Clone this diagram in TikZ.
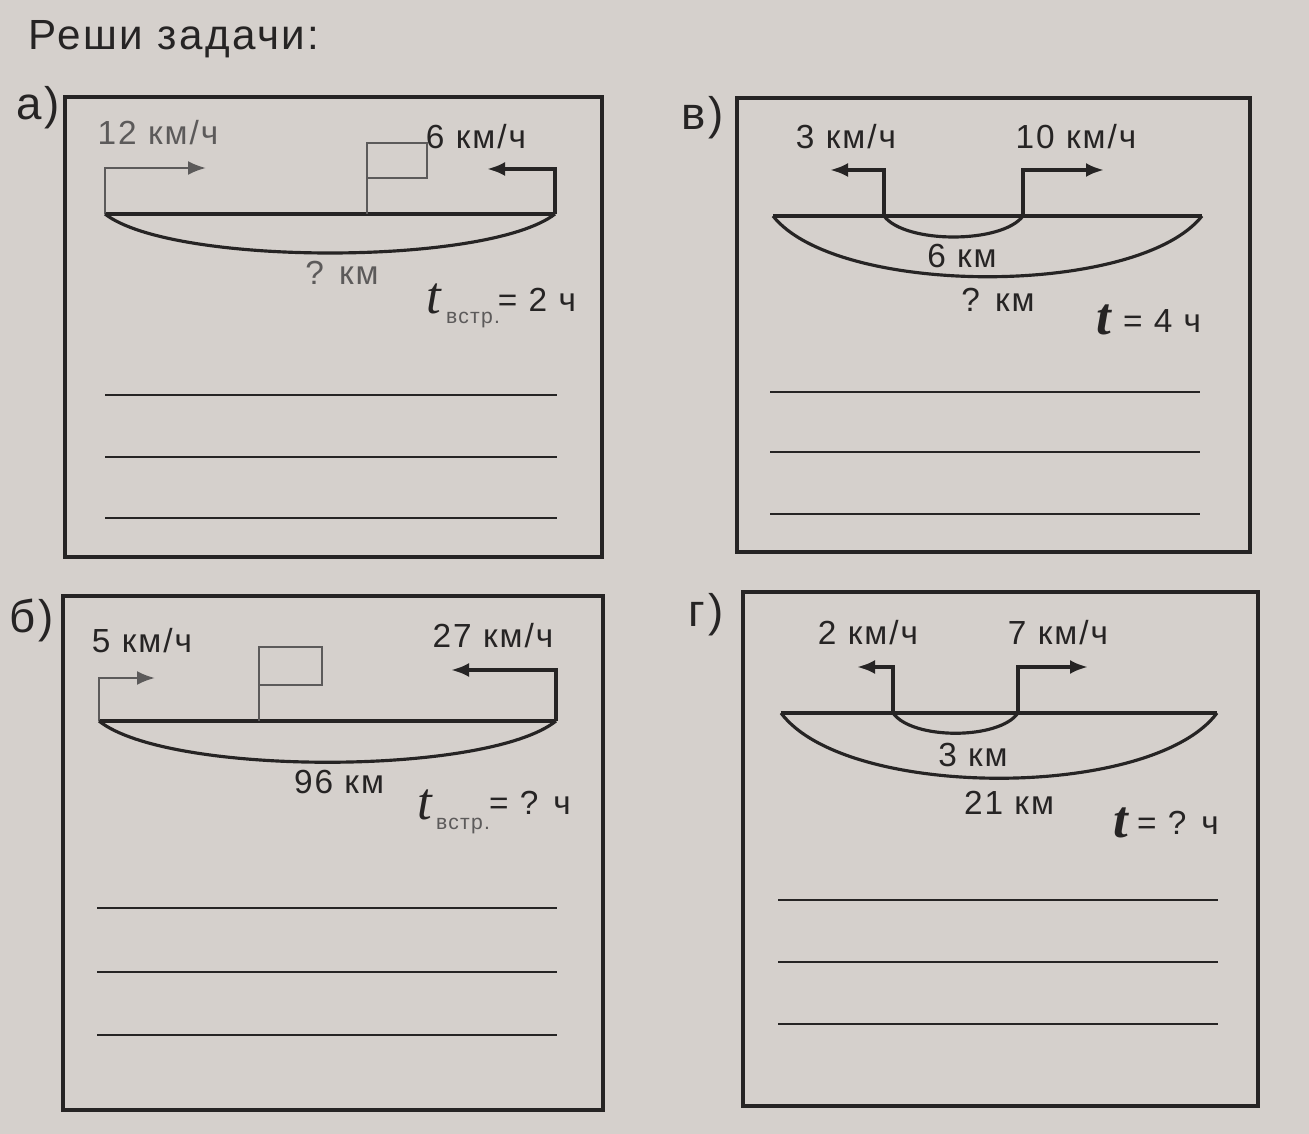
\documentclass[tikz,border=0pt]{standalone}
\usepackage{fontspec}
\setmainfont{Liberation Sans}[LetterSpace=6]
\newfontfamily\tfont{Liberation Serif}
\usetikzlibrary{arrows.meta}
\definecolor{paper}{RGB}{213,208,204}
\definecolor{ink}{RGB}{38,36,36}
\definecolor{pale}{RGB}{92,90,90}

\begin{document}
\begin{tikzpicture}[x=0.1mm,y=-0.1mm,
  lbl/.style={font=\fontsize{9.5}{11}\selectfont,text=ink,inner sep=1pt},
  tag/.style={font=\fontsize{13}{15}\selectfont,text=ink,inner sep=1pt},
  frame/.style={draw=ink,line width=1.1pt},
  road/.style={draw=ink,line width=1.3pt},
  bow/.style={draw=ink,line width=0.9pt},
  mv/.style={draw=ink,line width=1pt,-{Latex[length=1.8mm,width=1.4mm]}},
  flag/.style={draw=pale,line width=0.6pt},
  answ/.style={draw=ink,line width=0.6pt}]
\fill[paper] (0,0) rectangle (1309,1134);
\useasboundingbox (0,0) rectangle (1309,1134);

\node[font=\fontsize{12}{14}\selectfont,text=ink,anchor=west] (title) at (16,39) {Реши задачи:};

% а)
\node[tag] (ta) at (38,108) {а)};
\draw[frame] (65,97) rectangle (602,557);
\coordinate (aL) at (105,214);
\coordinate (aR) at (555,214);
\coordinate (aLt) at (206,168);
\coordinate (aRt) at (487,169);
\node[lbl,text=pale] (va) at (158,133) {12 км/ч};
\node[lbl] (vb) at (476,137) {6 км/ч};
\draw[road] (aL) -- (aR);
\draw[mv,draw=pale,line width=0.7pt] (aL) |- (aLt);
\draw[mv] (aR) |- (aRt);
\draw[flag] (367,214) -- (367,143) rectangle (427,178);
\draw[bow] (aL) .. controls (172,266) and (488,266) .. (aR);
\node[lbl,text=pale] (da) at (342,273) {? км};
\node[text=ink,font=\fontsize{15}{15}\tfont\itshape,inner sep=0pt] (tia) at (434,299) {t};
\node[text=pale,font=\fontsize{6}{7}\selectfont,inner sep=0pt] (sa) at (473,320) {встр.};
\node[lbl] (ea) at (537,300) {= 2 ч};
\draw[answ] (105,395) -- (557,395);
\draw[answ] (105,457) -- (557,457);
\draw[answ] (105,518) -- (557,518);

% в)
\node[tag] (tv) at (703,118) {в)};
\draw[frame] (737,98) rectangle (1250,552);
\coordinate (vL) at (773,216);
\coordinate (vR) at (1202,216);
\coordinate (vA) at (884,216);
\coordinate (vB) at (1023,216);
\coordinate (vAt) at (830,170);
\coordinate (vBt) at (1104,170);
\node[lbl] (vc) at (846,137) {3 км/ч};
\node[lbl] (vd) at (1076,137) {10 км/ч};
\draw[road] (vL) -- (vR);
\draw[mv] (vA) |- (vAt);
\draw[mv] (vB) |- (vBt);
\draw[bow] (vA) .. controls (905,244) and (1002,244) .. (vB);
\draw[bow] (vL) .. controls (837,297) and (1138,297) .. (vR);
\node[lbl] (dv1) at (962,256) {6 км};
\node[lbl] (dv2) at (998,300) {? км};
\node[text=ink,font=\fontsize{15}{15}\tfont\bfseries\itshape,inner sep=0pt] (tiv) at (1104,320) {t};
\node[lbl] (ev) at (1162,321) {= 4 ч};
\draw[answ] (770,392) -- (1200,392);
\draw[answ] (770,452) -- (1200,452);
\draw[answ] (770,514) -- (1200,514);

% б)
\node[tag] (tb) at (32,620) {б)};
\draw[frame] (63,596) rectangle (603,1110);
\coordinate (bL) at (99,721);
\coordinate (bR) at (556,721);
\coordinate (bLt) at (155,678);
\coordinate (bRt) at (451,670);
\node[lbl] (ve) at (142,641) {5 км/ч};
\node[lbl] (vf) at (493,636) {27 км/ч};
\draw[road] (bL) -- (bR);
\draw[mv,draw=pale,line width=0.7pt] (bL) |- (bLt);
\draw[mv] (bR) |- (bRt);
\draw[flag] (259,721) -- (259,647) rectangle (322,685);
\draw[bow] (bL) .. controls (168,776) and (487,776) .. (bR);
\node[lbl] (db) at (339,782) {96 км};
\node[text=ink,font=\fontsize{15}{15}\tfont\itshape,inner sep=0pt] (tib) at (425,805) {t};
\node[text=pale,font=\fontsize{6}{7}\selectfont,inner sep=0pt] (sb) at (463,826) {встр.};
\node[lbl] (eb) at (530,803) {= ? ч};
\draw[answ] (97,908) -- (557,908);
\draw[answ] (97,972) -- (557,972);
\draw[answ] (97,1035) -- (557,1035);

% г)
\node[tag] (tg) at (706,615) {г)};
\draw[frame] (743,592) rectangle (1258,1106);
\coordinate (gL) at (781,713);
\coordinate (gR) at (1217,713);
\coordinate (gA) at (893,713);
\coordinate (gB) at (1018,713);
\coordinate (gAt) at (857,667);
\coordinate (gBt) at (1088,667);
\node[lbl] (vg) at (868,633) {2 км/ч};
\node[lbl] (vh) at (1058,633) {7 км/ч};
\draw[road] (gL) -- (gR);
\draw[mv] (gA) |- (gAt);
\draw[mv] (gB) |- (gBt);
\draw[bow] (gA) .. controls (912,740) and (999,740) .. (gB);
\draw[bow] (gL) .. controls (846,800) and (1152,800) .. (gR);
\node[lbl] (dg1) at (973,755) {3 км};
\node[lbl] (dg2) at (1009,803) {21 км};
\node[text=ink,font=\fontsize{15}{15}\tfont\bfseries\itshape,inner sep=0pt] (tig) at (1121,823) {t};
\node[lbl] (eg) at (1178,823) {= ? ч};
\draw[answ] (778,900) -- (1218,900);
\draw[answ] (778,962) -- (1218,962);
\draw[answ] (778,1024) -- (1218,1024);
\end{tikzpicture}
\end{document}
